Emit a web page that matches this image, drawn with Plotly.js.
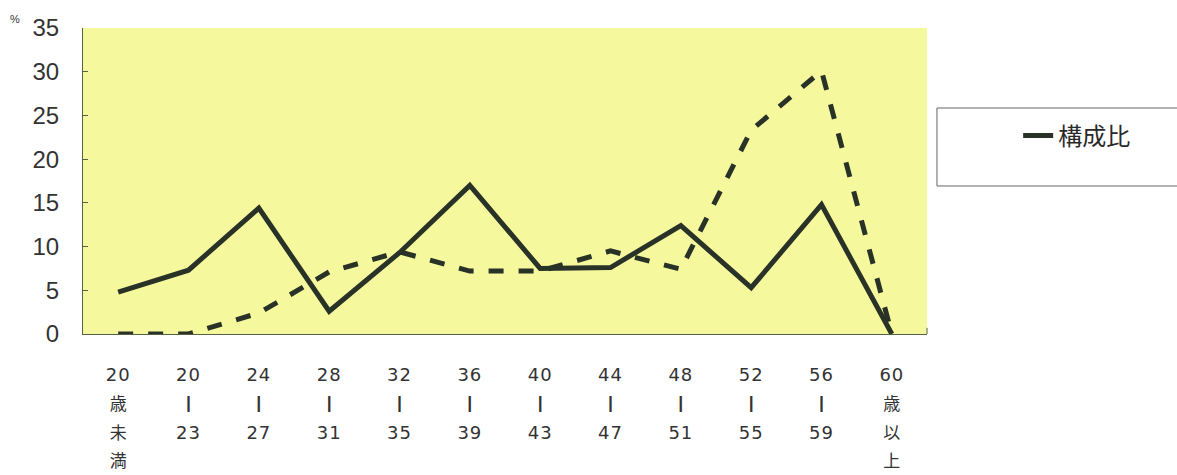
<!DOCTYPE html>
<html><head><meta charset="utf-8">
<script src="https://cdn.plot.ly/plotly-3.0.1.min.js"></script>
<style>html,body{margin:0;padding:0;background:#fff;}#chart{width:1177px;height:475px;}</style>
</head><body><div id="chart"></div>
<script>
const categories = ["20歳未満","20-23","24-27","28-31","32-35","36-39","40-43","44-47","48-51","52-55","56-59","60歳以上"];
const tickLines = [["20","歳","未","満"],["20","丨","23"],["24","丨","27"],["28","丨","31"],["32","丨","35"],["36","丨","39"],["40","丨","43"],["44","丨","47"],["48","丨","51"],["52","丨","55"],["56","丨","59"],["60","歳","以","上"]];
const solidValues = [4.8, 7.3, 14.4, 2.6, 9.3, 17.0, 7.5, 7.6, 12.4, 5.3, 14.8, 0];
const dashedValues = [0, 0, 2.4, 7.1, 9.4, 7.2, 7.2, 9.5, 7.4, 23.3, 30.1, 0];
const solidName = "構成比";
const yTicks = [0,5,10,15,20,25,30,35];

const lineColor = "#283226";
function fmtLine(s) {
  if (s === "丨") return '<span style="font-size:17px;font-weight:bold">' + s + '</span>';
  if (/^[0-9]+$/.test(s)) return '<span style="font-size:18px;font-family:DejaVu Sans;letter-spacing:1px">' + s + '</span>';
  return '<span style="font-size:17px">' + s + '</span>';
}
const tickText = tickLines.map(ls => ls.map(fmtLine).join("<br>"));

const data = [
  {x: categories, y: dashedValues, type: "scatter", mode: "lines", name: "", showlegend: false,
   line: {color: lineColor, width: 5, dash: "dash"}},
  {x: categories, y: solidValues, type: "scatter", mode: "lines", name: solidName,
   line: {color: lineColor, width: 5}}
];

const layout = {
  width: 1177, height: 475,
  margin: {l: 83, r: 250, t: 28, b: 141},
  paper_bgcolor: "#ffffff",
  plot_bgcolor: "#f6f89d",
  showlegend: true,
  font: {family: "Noto Sans CJK JP, Liberation Sans, sans-serif", color: "#2a2a2a"},
  xaxis: {
    type: "category",
    tickvals: categories, ticktext: tickText,
    showgrid: false, zeroline: false,
    showline: true, linecolor: "#556048", linewidth: 1,
    ticks: "", tickfont: {size: 22, color: "#333"},
    ticklabelstandoff: 20,
    range: [-0.5, 11.5], fixedrange: true
  },
  yaxis: {
    range: [0, 35], tickvals: yTicks,
    showgrid: false, zeroline: false,
    showline: true, linecolor: "#556048", linewidth: 1,
    ticks: "inside", ticklen: 5, tickcolor: "#556048",
    tickfont: {size: 24, family: "Liberation Sans, Arial, sans-serif", color: "#333"},
    ticklabelstandoff: 18
  },
  legend: {
    x: 1.108, y: 0.647, xanchor: "left", yanchor: "middle",
    bgcolor: "rgba(0,0,0,0)", borderwidth: 0,
    font: {size: 24, color: "#2a2a2a", family: "Noto Sans CJK JP, sans-serif"}
  },
  shapes: [
    {type: "rect", xref: "paper", yref: "paper", x0: 1.0118, x1: 1.35, y0: 0.4837, y1: 0.7386,
     line: {color: "#666", width: 1}, fillcolor: "rgba(0,0,0,0)", layer: "above"},
    {type: "line", xref: "paper", yref: "paper", x0: 1, x1: 1, y0: 0, y1: 0.02,
     line: {color: "#556048", width: 1}}
  ],
  annotations: [
    {text: "%", xref: "paper", yref: "paper", x: -0.0805, y: 1.03, xanchor: "center", yanchor: "middle",
     showarrow: false, font: {size: 11, color: "#333", family: "Liberation Sans, sans-serif"}}
  ]
};

Plotly.newPlot("chart", data, layout, {displayModeBar: false, staticPlot: true});
</script></body></html>
